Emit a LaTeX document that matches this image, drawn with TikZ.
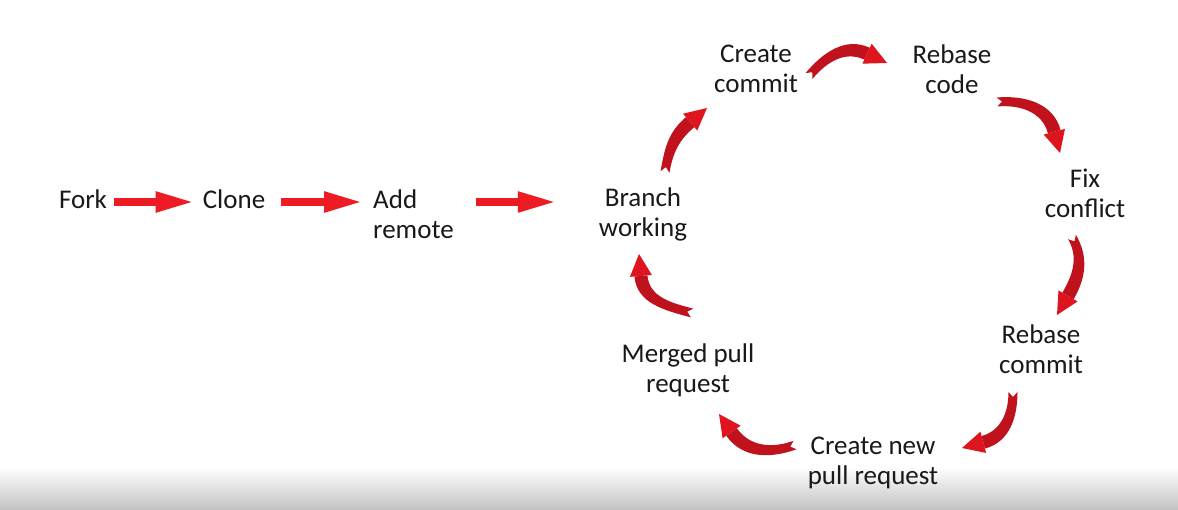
\documentclass[tikz,border=0pt]{standalone}
\usepackage{fontspec}
\setmainfont{Carlito}
\usetikzlibrary{arrows.meta,calc}
\definecolor{txt}{RGB}{25,25,25}
\definecolor{redA}{RGB}{237,28,36}
\definecolor{redS}{RGB}{192,18,28}
\definecolor{redH}{RGB}{222,20,30}
\definecolor{grayB}{RGB}{195,195,195}
\newcommand\curvarrow[4]{%
  \coordinate (H) at ($(#3)+({#4+180}:22)$);
  \fill[redS] ($(#1)+({#2+90}:4.5)$) to[out=#2,in={#4+180}] ($(H)+({#4+90}:6.5)$)
     -- ($(H)+({#4-90}:6.5)$) to[out={#4+180},in=#2] ($(#1)+({#2-90}:4.5)$)
     -- ($(#1)+(#2:5)$) -- cycle;
  \fill[redH] ($(H)+({#4+90}:11)$) -- (#3) -- ($(H)+({#4-90}:11)$) -- cycle;
}
\begin{document}
\begin{tikzpicture}[x=1pt,y=1pt,
  lbl/.style={text=txt, font=\fontsize{27}{30}\selectfont, align=center, inner sep=0pt},
  st/.style={draw=redA, line width=8pt, -{Triangle[length=39pt,width=19pt]}}]
\useasboundingbox (0,0) rectangle (1178,509);
\fill[white] (0,0) rectangle (1178,509);
\shade[top color=white, bottom color=grayB] (0,0) rectangle (1178,42);

\node[lbl] (fork) at (83,310) {Fork};
\node[lbl] (clone) at (234,310) {Clone};
\node[lbl, align=left, anchor=west] (addremote) at (373,295) {Add\\remote};
\node[lbl] (branch) at (643,295) {Branch\\working};
\node[lbl] (create) at (756,440) {Create\\commit};
\node[lbl] (rebase) at (952,440) {Rebase\\code};
\node[lbl] (fix) at (1085,316) {Fix\\conflict};
\node[lbl] (rebasecommit) at (1041,160) {Rebase\\commit};
\node[lbl] (createnew) at (873,46) {Create new\\pull request};
\node[lbl] (merged) at (688,139) {Merged pull\\request};

\draw[st] ([xshift=7pt,yshift=-3pt]fork.east) -- ([xshift=-8pt,yshift=-3pt]clone.west);
\draw[st] ([xshift=16pt,yshift=-3pt]clone.east) -- ([xshift=-10pt,yshift=-3pt]addremote.west |- clone.west);
\draw[st] ([xshift=22pt,yshift=12pt]addremote.east) -- ([xshift=-42pt,yshift=12pt]branch.west);

\coordinate (t1) at (692,196); \coordinate (p1) at (639,255);
\coordinate (t2) at (665,337); \coordinate (p2) at (707,401);
\coordinate (t3) at (809,433); \coordinate (p3) at (887,446);
\coordinate (t4) at (997,407); \coordinate (p4) at (1060,356);
\coordinate (t5) at (1072,272); \coordinate (p5) at (1057,194);
\coordinate (t6) at (1013,117); \coordinate (p6) at (962,61);
\coordinate (t7) at (795,64);  \coordinate (p7) at (719,95);

\curvarrow{t1}{165}{p1}{95}
\curvarrow{t2}{80}{p2}{40}
\curvarrow{t3}{50}{p3}{-25}
\curvarrow{t4}{5}{p4}{-75}
\curvarrow{t5}{-60}{p5}{-120}
\curvarrow{t6}{-90}{p6}{-165}
\curvarrow{t7}{200}{p7}{125}
\end{tikzpicture}
\end{document}
